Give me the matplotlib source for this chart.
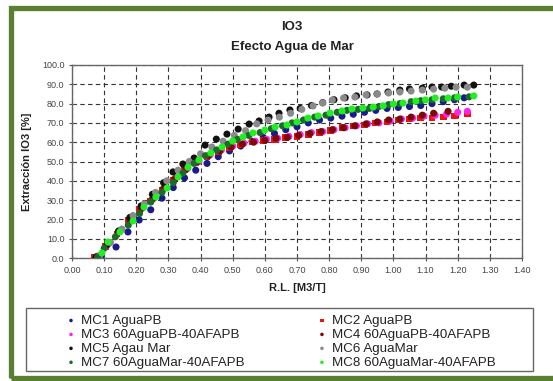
import matplotlib
matplotlib.use("Agg")
import matplotlib.pyplot as plt
from matplotlib.patches import Rectangle
from matplotlib.ticker import FormatStrFormatter, MultipleLocator

plt.rcParams['font.family'] = ['Liberation Sans', 'DejaVu Sans']

# ---- data (R.L. [M3/T] vs extraction %) ----
mc1_x = [0.09, 0.137, 0.174, 0.209, 0.245, 0.28, 0.315, 0.35, 0.385, 0.42, 0.455, 0.49, 0.525, 0.56, 0.595, 0.63,
         0.665, 0.70, 0.735, 0.77, 0.805, 0.84, 0.875, 0.91, 0.945, 0.98, 1.015, 1.05, 1.085, 1.12, 1.155, 1.19, 1.22]
mc1_y = [1, 5.7, 13.5, 19.7, 25, 31, 36.5, 41.5, 45.5, 49, 52.5, 55.5, 58, 60.5, 62.5, 64.5,
         66.5, 68, 70, 71.5, 72.5, 73.5, 74.5, 75.5, 76.5, 77.5, 78, 78.5, 79, 80, 81, 82, 83]

mc2_x = [0.07, 0.105, 0.14, 0.175, 0.21, 0.245, 0.28, 0.315, 0.35, 0.385, 0.42, 0.455, 0.49, 0.525, 0.56, 0.595, 0.63,
         0.665, 0.70, 0.735, 0.77, 0.805, 0.84, 0.875, 0.91, 0.945, 0.98, 1.015, 1.05, 1.085, 1.12, 1.155, 1.19, 1.23]
mc2_y = [0.5, 6, 12.5, 19.5, 25, 29.5, 35, 40.5, 45.5, 49.5, 52.5, 55, 57, 58.5, 60, 61, 61.5,
         62.5, 63, 64, 65, 66, 67.5, 68.5, 69, 70, 70.5, 71.5, 72, 72.5, 72.5, 73, 73.5, 74.5]

mc3_x = [0.08, 0.115, 0.15, 0.185, 0.22, 0.255, 0.29, 0.325, 0.36, 0.395, 0.43, 0.465, 0.50, 0.535, 0.57, 0.605, 0.64,
         0.675, 0.71, 0.745, 0.78, 0.815, 0.85, 0.885, 0.92, 0.955, 0.99, 1.025, 1.06, 1.095, 1.13, 1.165, 1.20, 1.23]
mc3_y = [1, 8, 14, 20.5, 26, 31, 36.5, 42, 46.5, 50, 53.5, 56, 58, 59.5, 60.5, 61.5, 62,
         63, 64, 65, 65.5, 66.5, 67.5, 68.5, 69.5, 70, 71, 72, 72.5, 73.5, 74, 74.5, 75.5, 76]

mc4_x = [0.075, 0.11, 0.145, 0.18, 0.215, 0.25, 0.285, 0.32, 0.355, 0.39, 0.425, 0.46, 0.495, 0.53, 0.565, 0.60,
         0.635, 0.67, 0.705, 0.74, 0.775, 0.81, 0.845, 0.88, 0.915, 0.95, 0.985, 1.02, 1.055, 1.09, 1.125, 1.17]
mc4_y = [0.5, 7, 13.5, 20, 25.5, 30.5, 36, 41, 46, 50, 53, 55.5, 57.5, 59, 60, 61,
         62, 62.5, 63.5, 64.5, 65.5, 66.5, 67.5, 68.5, 69.5, 70.5, 71.5, 72, 73, 74, 75, 76]

mc5_x = [0.075, 0.11, 0.145, 0.18, 0.215, 0.25, 0.285, 0.314, 0.345, 0.38, 0.414, 0.449, 0.482, 0.517, 0.551, 0.582,
         0.613, 0.644, 0.678, 0.71, 0.745, 0.78, 0.815, 0.85, 0.885, 0.918, 0.949, 0.983, 1.02, 1.05, 1.09, 1.12,
         1.15, 1.18, 1.22, 1.25]
mc5_y = [0.5, 7, 14, 21, 27, 33, 39, 44.6, 48.7, 51.8, 58.5, 61.6, 64.2, 66.8, 69.4, 71,
         73, 75, 76.7, 77.5, 79, 80.5, 82, 83, 84, 84.5, 85, 86, 87, 87.6, 88, 88.6,
         88.6, 89, 89.6, 89.6]

mc6_x = [0.085, 0.12, 0.155, 0.19, 0.225, 0.26, 0.295, 0.33, 0.365, 0.40, 0.435, 0.47, 0.505, 0.54, 0.575, 0.61,
         0.645, 0.68, 0.715, 0.75, 0.78, 0.81, 0.845, 0.88, 0.915, 0.95, 0.985, 1.02, 1.055, 1.09, 1.125, 1.16,
         1.195, 1.23]
mc6_y = [1, 8, 15, 22, 28, 34, 40, 45.5, 50, 54, 57.5, 60.5, 63.5, 66, 69.5, 71.5,
         73, 75, 77, 78.8, 80.3, 81.9, 82.9, 83.4, 84.5, 85, 85.5, 86, 86.5, 87, 87.5, 88,
         88.5, 88.5]

mc7_x = [0.08, 0.10, 0.135, 0.175, 0.21, 0.245, 0.28, 0.315, 0.345, 0.38, 0.415, 0.45, 0.485, 0.515, 0.55, 0.585,
         0.62, 0.655, 0.685, 0.72, 0.755, 0.79, 0.825, 0.855, 0.89, 0.925, 0.955, 0.985, 1.02, 1.055, 1.085, 1.12,
         1.155, 1.19, 1.235]
mc7_y = [0.5, 5, 11, 17, 23, 29, 34, 39, 44, 49, 53, 56, 59, 61.5, 63.5, 65,
         67, 68.5, 70, 71.5, 73, 74, 75.5, 76.5, 77, 77.5, 78.5, 79.5, 80, 81, 81.5, 82,
         82.5, 83, 83.5]

mc8_x = [0.093, 0.112, 0.149, 0.19, 0.224, 0.261, 0.296, 0.33, 0.361, 0.395, 0.432, 0.467, 0.5, 0.532, 0.563, 0.6,
         0.632, 0.669, 0.70, 0.734, 0.766, 0.803, 0.84, 0.871, 0.905, 0.937, 0.968, 1.0, 1.03, 1.07, 1.10, 1.13,
         1.17, 1.20, 1.25]
mc8_y = [2.6, 8.3, 13.5, 19.2, 26.4, 31.6, 36.3, 42, 47, 50.8, 54.4, 57.5, 60.6, 62.7, 64.8, 66.3,
         67.9, 68.9, 70.5, 72.5, 73.6, 75.1, 76.2, 77.2, 77.7, 78.2, 78.8, 79.8, 80.3, 81.3, 81.9, 82.9,
         82.9, 83.4, 84]

labels = ['MC1 AguaPB', 'MC2 AguaPB', 'MC3 60AguaPB-40AFAPB', 'MC4 60AguaPB-40AFAPB',
          'MC5 Agau Mar', 'MC6 AguaMar', 'MC7 60AguaMar-40AFAPB', 'MC8 60AguaMar-40AFAPB']
series_x = [mc1_x, mc2_x, mc3_x, mc4_x, mc5_x, mc6_x, mc7_x, mc8_x]
series_y = [mc1_y, mc2_y, mc3_y, mc4_y, mc5_y, mc6_y, mc7_y, mc8_y]
colors = ['#1a1a8c', '#ee1111', '#ff22ee', '#7a0a0a', '#111111', '#8a8a8a', '#1d6b2a', '#22ee22']
markers = ['o', 's', 'o', 'o', 'o', 'o', 'o', 'o']

fig = plt.figure(figsize=(5.53, 3.81), dpi=100)
W, H = 553, 381

# green frame around the picture (right side runs off the image)
fig.patches.append(Rectangle((10.5 / W, 3 / H), 560 / W, 370 / H, transform=fig.transFigure,
                             fill=False, edgecolor='#5b7f31', linewidth=3.8, zorder=0))

ax = fig.add_axes([72 / W, 1 - 258 / H, 450 / W, 193 / H])

handles = []
for x, y, c, m, lab in zip(series_x, series_y, colors, markers, labels):
    h = ax.scatter(x, y, s=26 if m == 'o' else 22, c=c, marker=m, edgecolors='none', label=lab, zorder=3)
    handles.append(h)

ax.set_xlim(0, 1.4)
ax.set_ylim(0, 100)
ax.xaxis.set_major_locator(MultipleLocator(0.1))
ax.yaxis.set_major_locator(MultipleLocator(10))
ax.xaxis.set_major_formatter(FormatStrFormatter('%.2f'))
ax.yaxis.set_major_formatter(FormatStrFormatter('%.1f'))
ax.tick_params(direction='inout', length=5, width=0.8, color='#555555', labelsize=6.5,
               labelcolor='#444444', pad=3)
ax.grid(True, linestyle=(0, (4, 3)), color='#333333', linewidth=0.8)
for sp in ax.spines.values():
    sp.set_color('#666666')
    sp.set_linewidth(1.0)

ax.set_xlabel('R.L. [M3/T]', fontsize=8, fontweight='bold', color='#222222', labelpad=6)
ax.set_ylabel('Extracción IO3 [%]', fontsize=8, fontweight='bold', color='#222222', labelpad=7)

fig.text(292 / W, 1 - 27 / H, 'IO3', ha='center', va='center', fontsize=9.5, fontweight='bold', color='#222222')
fig.text(292 / W, 1 - 47 / H, 'Efecto Agua de Mar', ha='center', va='center', fontsize=9.5,
         fontweight='bold', color='#222222')

# legend box drawn separately, entries placed row-wise like the reference
fig.patches.append(Rectangle((26 / W, 1 - 371 / H), 507 / W, 63 / H, transform=fig.transFigure,
                             fill=False, edgecolor='#666666', linewidth=1.0, zorder=1))
order = [0, 2, 4, 6, 1, 3, 5, 7]
leg = fig.legend([handles[i] for i in order], [labels[i] for i in order], ncol=2, frameon=False,
                 loc='upper left', bbox_to_anchor=(57 / W, 1 - 306 / H), fontsize=9.6,
                 handlelength=0.8, handletextpad=0.35, labelspacing=0.12, columnspacing=5.4,
                 markerscale=0.5, borderpad=0.15)
for t in leg.get_texts():
    t.set_color('#222222')

fig.savefig('out.png', dpi=100)
